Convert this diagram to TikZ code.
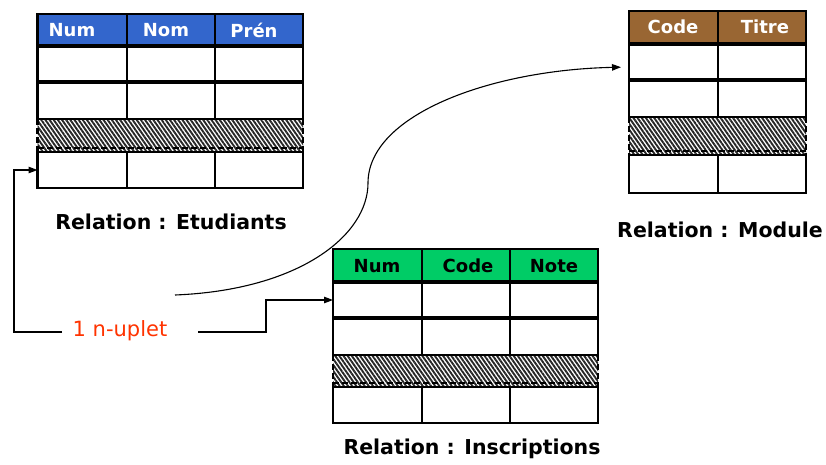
\documentclass[tikz,border=0pt]{standalone}
\usepackage{fontspec}
\setmainfont{DejaVu Sans}
\usetikzlibrary{patterns.meta,arrows.meta}

\definecolor{etublue}{HTML}{3366CC}
\definecolor{modbrown}{HTML}{996633}
\definecolor{insgreen}{HTML}{00CC66}
\definecolor{nupred}{HTML}{FF3300}

\tikzset{
  gridline/.style={line width=2.6pt},
  sepline/.style={line width=3.6pt},
  hatchband/.style={pattern={Lines[angle=-55,distance=3.4pt,line width=1.9pt]},pattern color=black!85},
  dashband/.style={line width=2.2pt,dash pattern=on 6pt off 3pt},
  headtext/.style={font=\fontsize{18}{21}\selectfont\bfseries,inner sep=0pt},
  reltitle/.style={font=\fontsize{20.5}{24}\selectfont\bfseries,inner sep=0pt},
  conn/.style={line width=1.1pt},
  arr/.style={conn,-{Triangle[length=9pt,width=6.5pt]}}
}

% row boundaries of a relation table: header top/bottom, row 1, row 2, hatched band, last row
\newcommand\setrows[6]{\def\ya{#1}\def\yb{#2}\def\yc{#3}\def\yd{#4}\def\ye{#5}\def\yf{#6}}
% grid of a relation table: left x, right x, inner column xs, header colour
\newcommand\relgrid[4]{%
  \fill[#4] (#1,-\ya) rectangle (#2,-\yb);
  \fill[hatchband] (#1,-\yd) rectangle (#2,-\ye);
  \draw[gridline] (#1,-\ya) rectangle (#2,-\yd);
  \draw[gridline] (#1,-\ye) rectangle (#2,-\yf);
  \draw[sepline] (#1,-\yb) -- (#2,-\yb);
  \draw[sepline] (#1,-\yc) -- (#2,-\yc);
  \foreach \cx in {#3}{%
    \draw[gridline] (\cx,-\ya) -- (\cx,-\yd);
    \draw[gridline] (\cx,-\ye) -- (\cx,-\yf);
  }
  \draw[dashband] (#1,-\yd) -- (#1,-\ye) (#2,-\yd) -- (#2,-\ye);
  \draw[dashband] (#1,-\ye+4) -- (#2,-\ye+4);
}

\begin{document}
\begin{tikzpicture}[x=1pt,y=1pt]
\useasboundingbox (0,0) rectangle (826,-464);

% Relation Etudiants
\setrows{14}{46}{82}{119}{152}{188}
\relgrid{37.5}{303}{127,215}{etublue}
\node[headtext,text=white] (etu-num) at (72,-30) {Num};
\node[headtext,text=white] (etu-nom) at (166,-30) {Nom};
\node[headtext,text=white] (etu-pren) at (254,-30) {Prén};
\coordinate (etuin) at (37.5,-170);
\node[reltitle] (etu-title) at (171,-222) {Relation : Etudiants};

% Relation Module
\setrows{11}{44}{80}{117}{155}{193}
\relgrid{629}{806}{718}{modbrown}
\node[headtext,text=white] (mod-code) at (673,-27) {Code};
\node[headtext,text=white] (mod-titre) at (765,-27) {Titre};
\coordinate (modin) at (629,-67);
\node[reltitle] (mod-title) at (720,-230) {Relation : Module};

% Relation Inscriptions
\setrows{249}{282}{318}{355}{387}{423}
\relgrid{333}{598}{422,510}{insgreen}
\node[headtext] (ins-num) at (377,-266) {Num};
\node[headtext] (ins-code) at (468,-266) {Code};
\node[headtext] (ins-note) at (554,-266) {Note};
\coordinate (insin) at (333,-300);
\node[reltitle] (ins-title) at (472,-449) {Relation : Inscriptions};

% the tuple and its links
\node[font=\fontsize{21}{25}\selectfont,text=nupred,inner sep=0pt] (nup) at (120,-331) {1 n-uplet};
\coordinate (nupL) at (62,-332);
\coordinate (nupR) at (198,-332);
\coordinate (cstart) at (175,-295);
\coordinate (bend) at (368,-183);

\draw[arr] (nupL) -- ++(-48,0) |- (etuin);
\draw[arr] (nupR) -- ++(68,0) |- (insin);
\draw[arr,shorten >=8pt] (cstart) .. controls (300,-290) and (368,-235) .. (bend)
  .. controls (368,-115) and (490,-70) .. (modin);
\end{tikzpicture}
\end{document}
